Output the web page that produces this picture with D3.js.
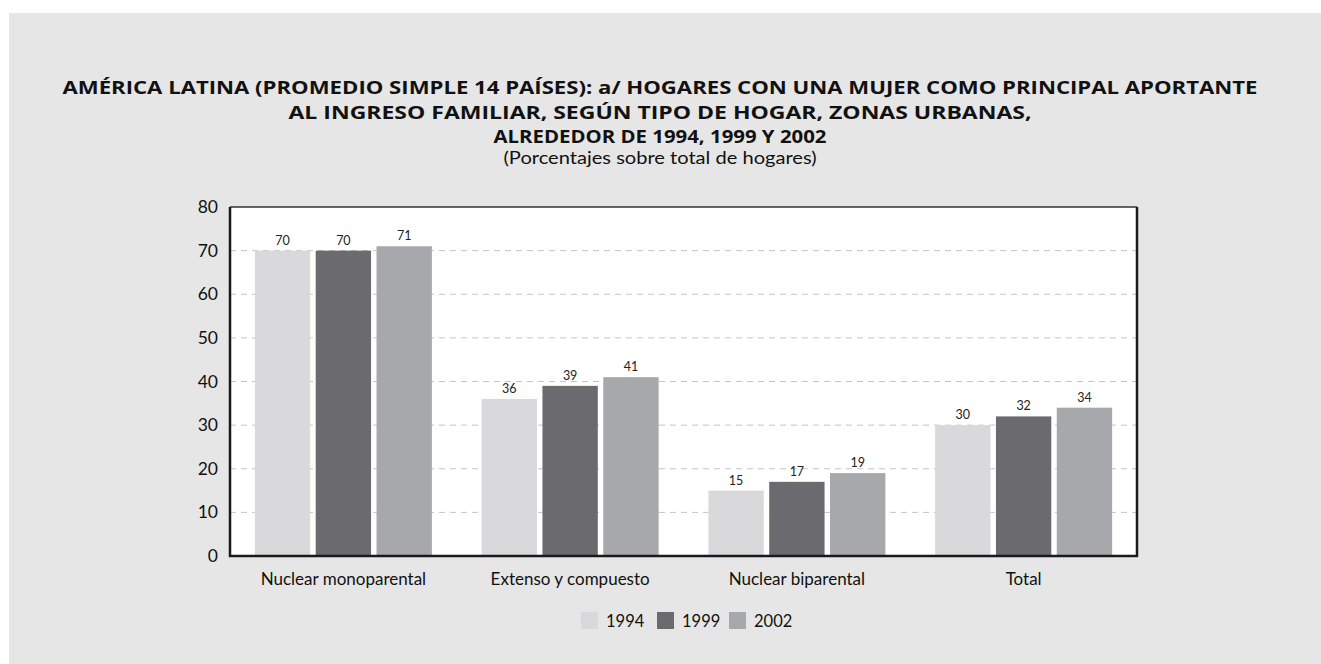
<!DOCTYPE html>
<html>
<head>
<meta charset="utf-8">
<script src="https://cdn.jsdelivr.net/npm/d3@7"></script>
<style>
  body { margin: 0; background: #fff; }
  svg { display: block; font-family: "Lato", "Open Sans", sans-serif; }
</style>
</head>
<body>
<svg id="chart" width="1321" height="664"></svg>
<script>
// data
const categories = ['Nuclear monoparental', 'Extenso y compuesto', 'Nuclear biparental', 'Total'];
const years = ['1994', '1999', '2002'];
const v1994 = [70, 36, 15, 30];
const v1999 = [70, 39, 17, 32];
const v2002 = [71, 41, 19, 34];
const yTicks = [0, 10, 20, 30, 40, 50, 60, 70, 80];
const colors = ['#d9d9db', '#6b6b6f', '#a7a8ab'];

const titleLines = [
  'AMÉRICA LATINA (PROMEDIO SIMPLE 14 PAÍSES): a/ HOGARES CON UNA MUJER COMO PRINCIPAL APORTANTE',
  'AL INGRESO FAMILIAR, SEGÚN TIPO DE HOGAR, ZONAS URBANAS,',
  'ALREDEDOR DE 1994, 1999 Y 2002'
];
const subtitle = '(Porcentajes sobre total de hogares)';

const series = [v1994, v1999, v2002];
const W = 1321, H = 664;
const m = {left: 230, right: 1137, top: 207, bottom: 556};
const titleWidths = [1195, 743, 333];

const svg = d3.select('#chart');

svg.append('rect')
  .attr('x', 9).attr('y', 13)
  .attr('width', W - 9).attr('height', H - 13)
  .attr('fill', '#e6e6e6');

// titles
svg.selectAll('.title')
  .data(titleLines)
  .enter().append('text')
  .attr('class', 'title')
  .attr('x', 660)
  .attr('y', (d, i) => 94 + i * 24.5)
  .attr('text-anchor', 'middle')
  .attr('font-family', '"Open Sans", sans-serif')
  .attr('font-weight', 'bold')
  .attr('font-size', 17)
  .attr('fill', '#111')
  .attr('textLength', (d, i) => titleWidths[i])
  .attr('lengthAdjust', 'spacingAndGlyphs')
  .text(d => d);

svg.append('text')
  .attr('x', 660).attr('y', 164)
  .attr('text-anchor', 'middle')
  .attr('font-size', 17)
  .attr('fill', '#111')
  .attr('textLength', 313)
  .attr('lengthAdjust', 'spacingAndGlyphs')
  .text(subtitle);

const x = d3.scaleBand()
  .domain(categories)
  .range([m.left, m.right]);

const xi = d3.scaleBand()
  .domain(years)
  .range([0, 177])
  .paddingInner(0.09);

const y = d3.scaleLinear()
  .domain([0, 80])
  .range([m.bottom, m.top]);

// plot background
svg.append('rect')
  .attr('x', m.left).attr('y', m.top)
  .attr('width', m.right - m.left).attr('height', m.bottom - m.top)
  .attr('fill', '#fff');

// dashed grid
svg.selectAll('.grid')
  .data(yTicks.filter(t => t > 0 && t < 80))
  .enter().append('line')
  .attr('x1', m.left).attr('x2', m.right)
  .attr('y1', d => y(d)).attr('y2', d => y(d))
  .attr('stroke', '#c4c4c4')
  .attr('stroke-width', 1)
  .attr('stroke-dasharray', '6,5');

// bars
const groups = svg.selectAll('.grp')
  .data(categories)
  .enter().append('g')
  .attr('transform', d => 'translate(' + (x(d) + (x.bandwidth() - 177) / 2) + ',0)');

groups.each(function(cat, ci) {
  const g = d3.select(this);
  const rows = years.map((yr, si) => ({yr, si, v: series[si][ci]}));

  g.selectAll('rect')
    .data(rows)
    .enter().append('rect')
    .attr('x', d => xi(d.yr))
    .attr('width', xi.bandwidth())
    .attr('y', d => y(d.v))
    .attr('height', d => y(0) - y(d.v))
    .attr('fill', d => colors[d.si]);

  g.selectAll('text')
    .data(rows)
    .enter().append('text')
    .attr('x', d => xi(d.yr) + xi.bandwidth() / 2)
    .attr('y', d => y(d.v) - 6)
    .attr('text-anchor', 'middle')
    .attr('font-size', 12.5)
    .attr('fill', '#222')
    .text(d => d.v);
});

// frame: left, bottom, right heavy; top lighter
svg.append('line')
  .attr('x1', m.left).attr('x2', m.right)
  .attr('y1', m.top).attr('y2', m.top)
  .attr('stroke', '#333').attr('stroke-width', 1.5);
svg.append('path')
  .attr('d', 'M' + m.left + ',' + m.top + 'V' + m.bottom + 'H' + m.right + 'V' + m.top)
  .attr('fill', 'none')
  .attr('stroke', '#1a1a1a')
  .attr('stroke-width', 2.5);

// y axis labels
const yAxis = d3.axisLeft(y).tickValues(yTicks).tickSize(0).tickPadding(12);
const ya = svg.append('g')
  .attr('transform', 'translate(' + m.left + ',0)')
  .call(yAxis);
ya.select('.domain').remove();
ya.selectAll('text')
  .attr('font-family', '"Lato", "Open Sans", sans-serif')
  .attr('font-size', 17.5)
  .attr('fill', '#111');

// x axis labels
const xAxis = d3.axisBottom(x).tickSize(0).tickPadding(17);
const xa = svg.append('g')
  .attr('transform', 'translate(0,' + m.bottom + ')')
  .call(xAxis);
xa.select('.domain').remove();
xa.selectAll('text')
  .attr('font-family', '"Lato", "Open Sans", sans-serif')
  .attr('font-size', 17)
  .attr('fill', '#111');

// legend
const legendX = [581, 657, 729];
const legend = svg.selectAll('.leg')
  .data(years)
  .enter().append('g')
  .attr('transform', (d, i) => 'translate(' + legendX[i] + ',612)');
legend.append('rect')
  .attr('width', 17).attr('height', 17)
  .attr('fill', (d, i) => colors[i]);
legend.append('text')
  .attr('x', 25).attr('y', 15)
  .attr('font-size', 16.5)
  .attr('fill', '#111')
  .text(d => d);
</script>
</body>
</html>
